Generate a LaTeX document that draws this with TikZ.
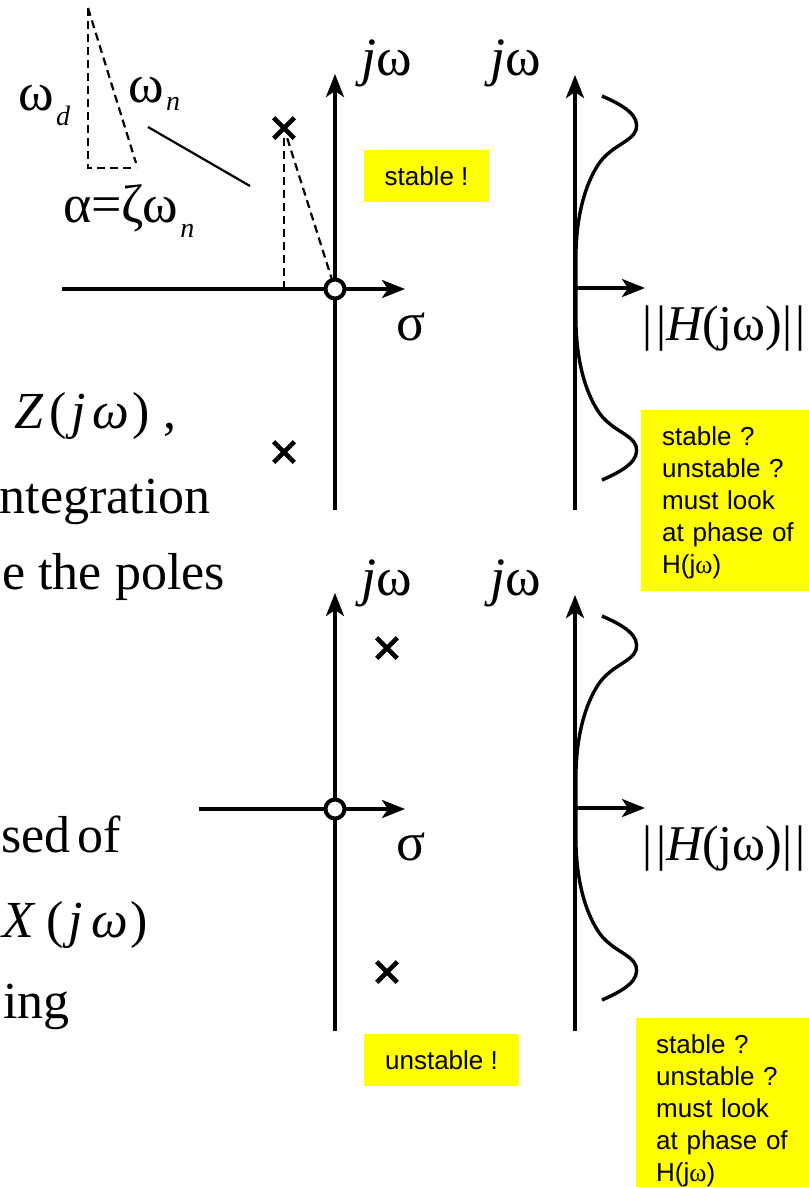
\documentclass[tikz,border=0pt]{standalone}
\usepackage{fontspec}
\setmainfont{Liberation Serif}
\newfontfamily\sansf{Liberation Sans}
\usetikzlibrary{arrows.meta,shapes.misc}
\definecolor{hl}{RGB}{255,255,0}
\newcommand\glab{\fontsize{54}{64}\selectfont}
\newcommand\hlab{\fontsize{50}{60}\selectfont}
\newcommand\gsub{\fontsize{28}{34}\selectfont\itshape}
\newcommand\bigtxt{\fontsize{52}{62}\selectfont}
\begin{document}
\begin{tikzpicture}[x=1pt,y=-1pt,
  axisarrow/.style={line width=3.8pt,-{Stealth[length=23pt,width=18pt,inset=6pt]}},
  curveline/.style={line width=3.4pt},
  dashline/.style={line width=2.2pt,dash pattern=on 8pt off 5pt},
  thinline/.style={line width=2.2pt},
  pole/.style={draw,cross out,minimum size=16pt,inner sep=0pt,line width=4.6pt},
  origin/.style={draw,circle,fill=white,minimum size=19pt,inner sep=0pt,line width=4pt},
  lbl/.style={inner sep=0pt,font=\glab},
  hlbl/.style={inner sep=0pt,font=\hlab},
  sublbl/.style={inner sep=0pt,font=\gsub},
  body/.style={inner sep=0pt,font=\bigtxt},
  ybox/.style={fill=hl,inner sep=0pt,font=\sansf\fontsize{26}{32}\selectfont},
  qtext/.style={inner sep=0pt,align=left,text width=150pt,font=\sansf\fontsize{26}{32.2}\selectfont}]
\useasboundingbox (0,0) rectangle (809,1187);
\clip (0,0) rectangle (809,1187);

% ---------- left body text (cut at the left edge) ----------
\node[body,anchor=base east] (tz) at (177,428) {{\itshape Z}\kern6pt(\kern5pt{\itshape j}\kern7pt{\itshape ω}\kern3pt)\kern14pt,};
\node[body,anchor=base east] (tint) at (211,513) {ntegration};
\node[body,anchor=base east] (tpol) at (225,589) {e the poles};
\node[body,anchor=base east] (tsed) at (121,852) {sed\hspace{7pt}of};
\node[body,anchor=base east] (tx) at (148,937) {{\itshape X}\kern12pt(\kern5pt{\itshape j}\kern9pt{\itshape ω}\kern2pt)};
\node[body,anchor=base east] (ting) at (70,1018) {ing};

% ---------- small triangle ----------
\coordinate (ta) at (88,8);
\coordinate (tb) at (88,168);
\coordinate (tc) at (136,168);
\coordinate (td) at (136,163);
\draw[dashline] (ta) -- (tb) -- (tc);
\draw[dashline] (ta) -- (td);
\node[lbl,anchor=base west] (wd) at (18,110) {ω};
\node[sublbl,anchor=base west] (wdsub) at ([xshift=2pt,yshift=-15pt]wd.base east) {d};
\node[lbl,anchor=base west] (wn) at (128,102) {ω};
\node[sublbl,anchor=base west] (wnsub) at ([xshift=2pt,yshift=-8pt]wn.base east) {n};
\node[lbl,anchor=base west] (alpha) at (63,222) {α=ζω};
\node[sublbl,anchor=base west] (alphasub) at ([xshift=2pt,yshift=-15pt]alpha.base east) {n};
\coordinate (la) at (148,127);
\coordinate (lb) at (250,186);
\draw[thinline] (la) -- (lb);

% ---------- top pole-zero plot ----------
\coordinate (h1l) at (62,289);
\coordinate (h1r) at (405,289);
\coordinate (v1b) at (335,510);
\coordinate (v1t) at (335,74);
\draw[axisarrow] (h1l) -- (h1r);
\draw[axisarrow] (v1b) -- (v1t);
\node[pole] (p1) at (284,128) {};
\node[pole] (p2) at (284,452) {};
\node[origin] (o1) at (335,289) {};
\draw[dashline] (p1.south) -- (p1.south |- o1);
\draw[dashline] (p1) -- (o1);
\node[lbl,anchor=base west] (jw1) at (361,75) {{\itshape j}ω};
\node[lbl,anchor=base west] (s1) at (396,340) {σ};
\node[ybox,minimum width=125pt,minimum height=52pt] (stab) at (426.5,176) {stable !};

% ---------- top magnitude plot ----------
\coordinate (r1b) at (575,510);
\coordinate (r1t) at (575,75);
\coordinate (r1o) at (575,288);
\coordinate (r1r) at (645,288);
\draw[axisarrow] (r1b) -- (r1t);
\draw[axisarrow] (r1o) -- (r1r);
\begin{scope}[shift={(575,288)}]
\draw[curveline] (27,-192) .. controls (50,-182) and (65,-172) .. (61,-158)
  .. controls (57,-146) and (35,-142) .. (23,-123)
  .. controls (10,-103) and (2,-73) .. (1,-38) -- (1,38)
  .. controls (2,73) and (10,103) .. (23,123)
  .. controls (35,142) and (57,146) .. (61,158)
  .. controls (65,172) and (50,182) .. (27,192);
\end{scope}
\node[lbl,anchor=base west] (jw2) at (490,75) {{\itshape j}ω};
\node[hlbl,anchor=base west] (hm1) at (642,340) {|\kern4pt|{\itshape H}(jω)|\kern3pt|};
\node[ybox,anchor=north west,minimum width=190pt,minimum height=181pt] (q1box) at (641,410) {};
\node[qtext,anchor=base west] (q1) at (662,445) {stable ?\\unstable ?\\must look\\at phase of\\H(j{\rmfamily ω})};

% ---------- bottom pole-zero plot ----------
\coordinate (h2l) at (199,809);
\coordinate (h2r) at (405,809);
\coordinate (v2b) at (335,1031);
\coordinate (v2t) at (335,593);
\draw[axisarrow] (h2l) -- (h2r);
\draw[axisarrow] (v2b) -- (v2t);
\node[pole] (p3) at (387,648) {};
\node[pole] (p4) at (387,972) {};
\node[origin] (o2) at (335,809) {};
\node[lbl,anchor=base west] (jw3) at (361,595) {{\itshape j}ω};
\node[lbl,anchor=base west] (s2) at (396,860) {σ};
\node[ybox,minimum width=155pt,minimum height=52pt] (unst) at (441.5,1060) {unstable !};

% ---------- bottom magnitude plot ----------
\coordinate (r2b) at (575,1031);
\coordinate (r2t) at (575,595);
\coordinate (r2o) at (575,808);
\coordinate (r2r) at (645,808);
\draw[axisarrow] (r2b) -- (r2t);
\draw[axisarrow] (r2o) -- (r2r);
\begin{scope}[shift={(575,808)}]
\draw[curveline] (27,-192) .. controls (50,-182) and (65,-172) .. (61,-158)
  .. controls (57,-146) and (35,-142) .. (23,-123)
  .. controls (10,-103) and (2,-73) .. (1,-38) -- (1,38)
  .. controls (2,73) and (10,103) .. (23,123)
  .. controls (35,142) and (57,146) .. (61,158)
  .. controls (65,172) and (50,182) .. (27,192);
\end{scope}
\node[lbl,anchor=base west] (jw4) at (490,595) {{\itshape j}ω};
\node[hlbl,anchor=base west] (hm2) at (642,860) {|\kern4pt|{\itshape H}(jω)|\kern3pt|};
\node[ybox,anchor=north west,minimum width=190pt,minimum height=200pt] (q2box) at (636,1018) {};
\node[qtext,anchor=base west] (q2) at (656,1053) {stable ?\\unstable ?\\must look\\at phase of\\H(j{\rmfamily ω})};
\end{tikzpicture}
\end{document}
